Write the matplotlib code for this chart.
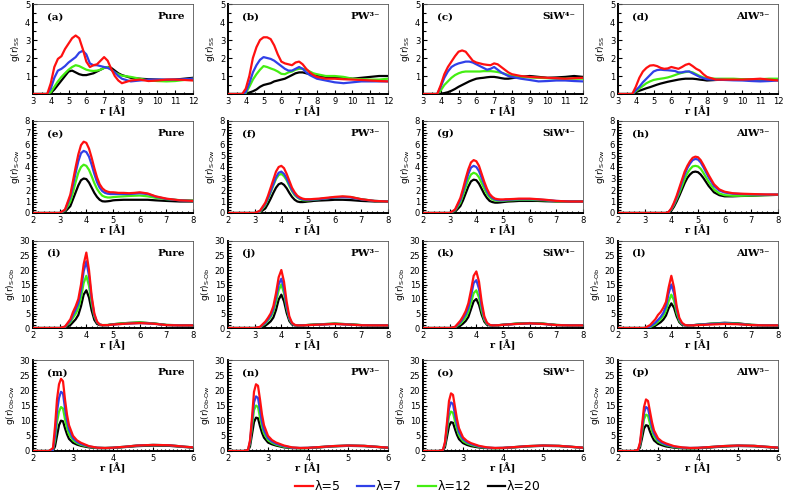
import matplotlib
matplotlib.use("Agg")
import matplotlib.pyplot as plt
from matplotlib.ticker import MultipleLocator, FuncFormatter
from matplotlib.lines import Line2D

# ---------------- data ----------------
LAMBDAS = ["λ=5", "λ=7", "λ=12", "λ=20"]
COLORS = ["#ff1010", "#3040e8", "#44ee11", "#000000"]
SYSTEMS = ["Pure", "PW³⁻", "SiW⁴⁻", "AlW⁵⁻"]

# Row 1: g(r)_SS
R1 = [3.0, 3.8, 4.0, 4.2, 4.4, 4.6, 4.8, 5.0, 5.2, 5.4, 5.6, 5.8, 6.0, 6.2, 6.4, 6.6,
      6.8, 7.0, 7.2, 7.4, 7.6, 7.8, 8.0, 8.5, 9.0, 9.5, 10.0, 10.5, 11.0, 11.5, 12.0]
ss_a = [
    [0, 0, 0.6, 1.5, 1.95, 2.1, 2.5, 2.8, 3.1, 3.25, 3.1, 2.5, 1.8, 1.5, 1.6, 1.65, 1.85, 2.05, 1.85, 1.4, 1.0, 0.75, 0.6, 0.75, 0.8, 0.72, 0.75, 0.8, 0.8, 0.78, 0.75],
    [0, 0, 0.3, 0.9, 1.3, 1.4, 1.55, 1.75, 1.9, 2.05, 2.3, 2.4, 2.2, 1.7, 1.6, 1.6, 1.55, 1.5, 1.45, 1.35, 1.2, 1.0, 0.85, 0.7, 0.75, 0.8, 0.8, 0.8, 0.8, 0.82, 0.85],
    [0, 0, 0.1, 0.4, 0.7, 0.95, 1.15, 1.35, 1.5, 1.6, 1.55, 1.45, 1.35, 1.3, 1.28, 1.3, 1.35, 1.45, 1.5, 1.35, 1.2, 1.1, 1.02, 0.95, 0.85, 0.75, 0.72, 0.7, 0.72, 0.78, 0.85],
    [0, 0, 0.05, 0.25, 0.5, 0.75, 1.0, 1.25, 1.3, 1.2, 1.1, 1.05, 1.05, 1.1, 1.15, 1.25, 1.35, 1.45, 1.5, 1.45, 1.3, 1.15, 1.05, 0.9, 0.85, 0.82, 0.8, 0.78, 0.8, 0.85, 0.9],
]
ss_b = [
    [0, 0, 0.3, 1.0, 2.0, 2.6, 3.0, 3.15, 3.15, 3.05, 2.7, 2.2, 1.8, 1.7, 1.65, 1.6, 1.75, 1.8, 1.65, 1.4, 1.2, 1.05, 0.95, 0.85, 0.85, 0.82, 0.8, 0.78, 0.75, 0.72, 0.7],
    [0, 0, 0.1, 0.6, 1.2, 1.6, 1.9, 2.05, 2.0, 1.95, 1.85, 1.7, 1.55, 1.4, 1.3, 1.3, 1.4, 1.5, 1.4, 1.2, 1.05, 0.95, 0.85, 0.75, 0.65, 0.6, 0.65, 0.7, 0.7, 0.7, 0.7],
    [0, 0, 0.05, 0.4, 0.8, 1.1, 1.35, 1.55, 1.5, 1.42, 1.35, 1.25, 1.12, 1.1, 1.2, 1.25, 1.35, 1.4, 1.4, 1.35, 1.25, 1.15, 1.1, 1.0, 1.0, 0.95, 0.85, 0.82, 0.8, 0.8, 0.85],
    [0, 0, 0.02, 0.08, 0.15, 0.25, 0.4, 0.5, 0.55, 0.6, 0.7, 0.75, 0.8, 0.85, 0.95, 1.05, 1.15, 1.2, 1.2, 1.15, 1.1, 1.05, 1.0, 0.95, 0.92, 0.9, 0.85, 0.9, 0.95, 1.0, 1.0],
]
ss_c = [
    [0, 0, 0.5, 1.1, 1.5, 1.8, 2.1, 2.35, 2.42, 2.35, 2.1, 1.85, 1.75, 1.7, 1.65, 1.62, 1.6, 1.7, 1.65, 1.5, 1.35, 1.2, 1.1, 1.0, 0.95, 0.92, 0.9, 0.88, 0.85, 0.88, 0.9],
    [0, 0, 0.4, 0.9, 1.25, 1.5, 1.62, 1.7, 1.75, 1.8, 1.8, 1.75, 1.65, 1.55, 1.45, 1.35, 1.4, 1.5, 1.35, 1.2, 1.1, 1.0, 0.95, 0.85, 0.78, 0.7, 0.72, 0.75, 0.75, 0.72, 0.7],
    [0, 0, 0.2, 0.5, 0.7, 0.9, 1.05, 1.15, 1.22, 1.25, 1.25, 1.25, 1.25, 1.25, 1.27, 1.27, 1.27, 1.25, 1.22, 1.18, 1.12, 1.05, 1.0, 0.95, 0.92, 0.9, 0.88, 0.85, 0.85, 0.85, 0.85],
    [0, 0, 0.02, 0.05, 0.1, 0.18, 0.28, 0.4, 0.5, 0.6, 0.7, 0.78, 0.85, 0.88, 0.9, 0.93, 0.95, 0.95, 0.92, 0.88, 0.85, 0.85, 0.88, 0.95, 1.0, 0.95, 0.9, 0.92, 0.95, 1.0, 0.95],
]
ss_d = [
    [0, 0, 0.4, 0.9, 1.25, 1.45, 1.58, 1.6, 1.55, 1.45, 1.4, 1.42, 1.5, 1.45, 1.4, 1.5, 1.62, 1.68, 1.55, 1.4, 1.3, 1.1, 0.95, 0.8, 0.8, 0.8, 0.8, 0.82, 0.85, 0.8, 0.75],
    [0, 0, 0.2, 0.4, 0.65, 0.85, 1.05, 1.25, 1.33, 1.35, 1.33, 1.32, 1.3, 1.28, 1.2, 1.2, 1.25, 1.25, 1.15, 1.05, 0.95, 0.88, 0.82, 0.8, 0.78, 0.76, 0.75, 0.72, 0.7, 0.72, 0.75],
    [0, 0, 0.15, 0.3, 0.45, 0.6, 0.7, 0.78, 0.82, 0.85, 0.88, 0.92, 0.98, 1.05, 1.12, 1.18, 1.22, 1.25, 1.2, 1.1, 1.0, 0.92, 0.88, 0.85, 0.85, 0.85, 0.82, 0.8, 0.82, 0.85, 0.85],
    [0, 0, 0.1, 0.18, 0.25, 0.32, 0.38, 0.45, 0.52, 0.58, 0.63, 0.68, 0.72, 0.76, 0.8, 0.83, 0.85, 0.85, 0.85, 0.83, 0.8, 0.78, 0.75, 0.78, 0.8, 0.8, 0.8, 0.8, 0.8, 0.8, 0.8],
]

# Row 2: g(r)_S-Ow
R2 = [2.0, 3.0, 3.2, 3.4, 3.5, 3.6, 3.7, 3.8, 3.9, 4.0, 4.1, 4.2, 4.3, 4.4, 4.5, 4.6,
      4.7, 4.8, 4.9, 5.0, 5.1, 5.2, 5.4, 5.6, 5.8, 6.0, 6.3, 6.6, 7.0, 7.5, 8.0]
sow_e = [
    [0, 0, 0.3, 1.6, 2.8, 4.0, 5.1, 5.9, 6.2, 6.1, 5.6, 4.8, 3.9, 3.1, 2.5, 2.15, 1.95, 1.85, 1.8, 1.8, 1.78, 1.75, 1.75, 1.72, 1.75, 1.8, 1.7, 1.45, 1.25, 1.1, 1.05],
    [0, 0, 0.25, 1.4, 2.4, 3.5, 4.5, 5.2, 5.4, 5.3, 4.9, 4.2, 3.4, 2.7, 2.2, 1.9, 1.75, 1.68, 1.65, 1.65, 1.65, 1.65, 1.65, 1.65, 1.68, 1.72, 1.65, 1.42, 1.22, 1.1, 1.05],
    [0, 0, 0.2, 1.0, 1.8, 2.7, 3.5, 4.0, 4.2, 4.1, 3.75, 3.2, 2.6, 2.1, 1.75, 1.5, 1.4, 1.35, 1.35, 1.38, 1.4, 1.42, 1.45, 1.48, 1.5, 1.52, 1.45, 1.32, 1.2, 1.12, 1.1],
    [0, 0, 0.1, 0.6, 1.2, 1.8, 2.4, 2.85, 3.0, 2.95, 2.65, 2.2, 1.75, 1.4, 1.15, 1.02, 1.0, 1.02, 1.05, 1.1, 1.12, 1.13, 1.15, 1.15, 1.15, 1.15, 1.15, 1.1, 1.05, 1.0, 1.0],
]
sow_f = [
    [0, 0, 0.2, 0.9, 1.5, 2.2, 2.9, 3.6, 4.0, 4.1, 3.9, 3.4, 2.8, 2.2, 1.8, 1.5, 1.35, 1.25, 1.2, 1.2, 1.2, 1.22, 1.25, 1.3, 1.35, 1.4, 1.45, 1.4, 1.2, 1.05, 1.0],
    [0, 0, 0.15, 0.8, 1.3, 1.9, 2.5, 3.1, 3.5, 3.6, 3.4, 3.0, 2.5, 2.0, 1.65, 1.4, 1.25, 1.18, 1.15, 1.15, 1.15, 1.18, 1.2, 1.25, 1.3, 1.35, 1.38, 1.35, 1.18, 1.05, 1.0],
    [0, 0, 0.1, 0.7, 1.2, 1.8, 2.4, 2.95, 3.3, 3.4, 3.2, 2.85, 2.35, 1.9, 1.55, 1.35, 1.2, 1.12, 1.1, 1.1, 1.12, 1.15, 1.2, 1.25, 1.3, 1.35, 1.4, 1.38, 1.2, 1.05, 1.0],
    [0, 0, 0.05, 0.4, 0.8, 1.25, 1.75, 2.2, 2.5, 2.6, 2.45, 2.15, 1.75, 1.4, 1.15, 1.0, 0.95, 0.95, 0.97, 1.0, 1.02, 1.05, 1.08, 1.1, 1.12, 1.15, 1.15, 1.12, 1.05, 1.0, 1.0],
]
sow_g = [
    [0, 0, 0.3, 1.3, 2.1, 3.0, 3.8, 4.4, 4.6, 4.5, 4.1, 3.4, 2.7, 2.1, 1.65, 1.4, 1.25, 1.2, 1.18, 1.18, 1.2, 1.2, 1.22, 1.25, 1.25, 1.25, 1.2, 1.15, 1.05, 1.0, 1.0],
    [0, 0, 0.25, 1.1, 1.85, 2.65, 3.4, 3.95, 4.1, 4.0, 3.65, 3.05, 2.45, 1.9, 1.5, 1.3, 1.18, 1.12, 1.1, 1.1, 1.12, 1.15, 1.18, 1.2, 1.2, 1.2, 1.18, 1.12, 1.05, 1.0, 1.0],
    [0, 0, 0.2, 0.9, 1.55, 2.25, 2.9, 3.35, 3.5, 3.4, 3.1, 2.6, 2.1, 1.65, 1.35, 1.18, 1.1, 1.05, 1.05, 1.05, 1.08, 1.1, 1.12, 1.15, 1.15, 1.15, 1.12, 1.1, 1.02, 1.0, 1.0],
    [0, 0, 0.1, 0.6, 1.1, 1.7, 2.3, 2.75, 2.9, 2.85, 2.55, 2.1, 1.65, 1.3, 1.05, 0.95, 0.9, 0.9, 0.92, 0.95, 0.98, 1.0, 1.02, 1.05, 1.05, 1.05, 1.05, 1.02, 1.0, 1.0, 1.0],
]
sow_h = [
    [0, 0, 0, 0, 0, 0, 0, 0, 0.1, 0.4, 0.9, 1.5, 2.2, 2.9, 3.6, 4.1, 4.5, 4.8, 4.9, 4.85, 4.6, 4.2, 3.3, 2.5, 2.05, 1.85, 1.72, 1.68, 1.65, 1.62, 1.6],
    [0, 0, 0, 0, 0, 0, 0, 0, 0.08, 0.35, 0.8, 1.35, 2.0, 2.7, 3.35, 3.9, 4.3, 4.6, 4.7, 4.65, 4.4, 4.0, 3.1, 2.35, 1.95, 1.78, 1.68, 1.65, 1.62, 1.6, 1.6],
    [0, 0, 0, 0, 0, 0, 0, 0, 0.05, 0.3, 0.7, 1.2, 1.75, 2.35, 2.95, 3.45, 3.8, 4.05, 4.1, 4.05, 3.85, 3.5, 2.7, 2.05, 1.7, 1.55, 1.5, 1.5, 1.52, 1.55, 1.58],
    [0, 0, 0, 0, 0, 0, 0, 0, 0.03, 0.2, 0.55, 1.0, 1.5, 2.05, 2.6, 3.05, 3.35, 3.55, 3.6, 3.55, 3.35, 3.05, 2.35, 1.8, 1.55, 1.45, 1.45, 1.48, 1.5, 1.55, 1.58],
]

# Row 3: g(r)_S-Ob
R3 = [2.0, 3.0, 3.2, 3.4, 3.5, 3.6, 3.7, 3.8, 3.9, 4.0, 4.1, 4.2, 4.3, 4.4, 4.5, 4.6,
      4.8, 5.0, 5.5, 6.0, 6.5, 7.0, 7.5, 8.0]
sob_i = [
    [0, 0, 0.5, 3.0, 5.5, 7.5, 10, 15, 22, 26, 20, 11, 5, 2.2, 1.2, 1.0, 1.0, 1.2, 1.5, 1.7, 1.5, 1.0, 0.9, 0.9],
    [0, 0, 0.4, 2.5, 4.5, 6.3, 8.5, 13, 19.5, 23, 18, 10, 4.5, 2.0, 1.2, 1.0, 1.0, 1.2, 1.5, 1.7, 1.5, 1.0, 0.9, 0.9],
    [0, 0, 0.3, 2.0, 3.5, 4.9, 6.8, 10.5, 15.5, 18, 14.5, 8.5, 4.0, 1.9, 1.2, 1.0, 1.05, 1.3, 1.7, 1.9, 1.6, 1.05, 0.95, 0.9],
    [0, 0, 0.1, 1.0, 2.0, 3.0, 4.5, 7.5, 11.5, 13, 10.5, 6.0, 2.8, 1.4, 1.0, 0.95, 1.0, 1.3, 1.7, 1.9, 1.6, 1.05, 0.95, 0.9],
]
sob_j = [
    [0, 0, 0.4, 2.2, 3.5, 5.0, 7.5, 12, 17.5, 20, 16, 9, 4, 1.8, 1.1, 0.9, 0.9, 1.0, 1.2, 1.4, 1.2, 0.95, 0.9, 0.9],
    [0, 0, 0.3, 1.8, 3.0, 4.3, 6.5, 10.5, 15, 17, 13.5, 7.5, 3.4, 1.6, 1.0, 0.9, 0.9, 1.0, 1.2, 1.4, 1.2, 0.95, 0.9, 0.9],
    [0, 0, 0.25, 1.5, 2.6, 3.8, 5.6, 9, 13, 15, 12, 6.8, 3.1, 1.5, 1.0, 0.9, 0.9, 1.05, 1.3, 1.5, 1.3, 1.0, 0.9, 0.9],
    [0, 0, 0.1, 0.8, 1.5, 2.3, 3.6, 6.2, 9.8, 11.5, 9.2, 5.2, 2.4, 1.2, 0.9, 0.85, 0.9, 1.05, 1.3, 1.5, 1.3, 1.0, 0.9, 0.9],
]
sob_k = [
    [0, 0, 0.4, 2.5, 4.0, 5.8, 8.5, 13, 18, 19.5, 16, 9, 4, 1.8, 1.1, 0.9, 0.95, 1.1, 1.4, 1.6, 1.4, 1.0, 0.9, 0.9],
    [0, 0, 0.3, 2.0, 3.3, 4.8, 7.0, 11, 15.5, 16.5, 13.5, 7.5, 3.4, 1.6, 1.0, 0.9, 0.95, 1.1, 1.4, 1.6, 1.4, 1.0, 0.9, 0.9],
    [0, 0, 0.25, 1.5, 2.5, 3.7, 5.5, 8.8, 12, 13, 10.5, 6, 2.8, 1.4, 1.0, 0.9, 0.95, 1.1, 1.5, 1.7, 1.5, 1.05, 0.9, 0.9],
    [0, 0, 0.1, 0.8, 1.5, 2.4, 3.8, 6.5, 9.2, 10, 8, 4.6, 2.2, 1.1, 0.9, 0.85, 0.95, 1.1, 1.5, 1.7, 1.5, 1.05, 0.9, 0.9],
]
sob_l = [
    [0, 0, 1.0, 3.0, 4.5, 5.5, 7.0, 9.0, 14, 18, 14, 7.5, 3.5, 1.8, 1.1, 0.9, 0.9, 1.0, 1.2, 1.4, 1.3, 1.0, 0.9, 0.9],
    [0, 0, 0.5, 1.8, 2.8, 3.8, 5.2, 7.5, 12, 15, 12, 6.5, 3.0, 1.5, 1.0, 0.9, 0.95, 1.1, 1.4, 1.6, 1.4, 1.0, 0.9, 0.9],
    [0, 0, 0.3, 1.3, 2.2, 3.0, 4.2, 6.0, 9.2, 11.5, 9.5, 5.2, 2.5, 1.3, 1.0, 0.9, 0.95, 1.1, 1.5, 1.7, 1.5, 1.05, 0.9, 0.9],
    [0, 0, 0.15, 0.8, 1.4, 2.0, 2.9, 4.3, 6.8, 8.5, 7.0, 4.0, 2.0, 1.1, 0.9, 0.9, 0.95, 1.15, 1.5, 1.8, 1.6, 1.1, 0.9, 0.9],
]

# Row 4: g(r)_Ob-Ow
R4 = [2.0, 2.4, 2.5, 2.55, 2.6, 2.65, 2.7, 2.75, 2.8, 2.85, 2.9, 3.0, 3.1, 3.2, 3.4, 3.6,
      3.8, 4.0, 4.3, 4.6, 5.0, 5.4, 5.8, 6.0]
obow_m = [
    [0, 0, 1.0, 8, 17, 22, 23.8, 23, 17, 12, 8.5, 5, 3.5, 2.7, 1.6, 1.1, 1.0, 1.1, 1.4, 1.8, 2.0, 1.9, 1.4, 1.2],
    [0, 0, 0.4, 5, 13, 17.5, 19.5, 19, 14, 10, 7, 4.2, 3.0, 2.3, 1.5, 1.1, 1.0, 1.1, 1.4, 1.8, 2.0, 1.9, 1.4, 1.2],
    [0, 0, 0.3, 3.5, 9.5, 13, 14.5, 14, 10.5, 7.5, 5.5, 3.5, 2.6, 2.0, 1.4, 1.05, 1.0, 1.1, 1.4, 1.8, 2.0, 1.9, 1.4, 1.2],
    [0, 0, 0.1, 1.5, 5, 8.5, 10, 9.8, 7.5, 5.5, 4, 2.7, 2.1, 1.7, 1.2, 0.95, 0.9, 1.0, 1.3, 1.6, 1.8, 1.7, 1.3, 1.1],
]
obow_n = [
    [0, 0, 0.4, 3.5, 11, 19.5, 22, 21.5, 17, 12, 8.5, 5, 3.6, 2.8, 1.8, 1.2, 1.0, 1.05, 1.3, 1.6, 1.8, 1.7, 1.3, 1.1],
    [0, 0, 0.3, 3.0, 9.5, 16, 18, 17.5, 13.5, 9.5, 6.8, 4.2, 3.1, 2.4, 1.6, 1.1, 1.0, 1.05, 1.3, 1.6, 1.8, 1.7, 1.3, 1.1],
    [0, 0, 0.25, 2.5, 8, 13.5, 15, 14.5, 11, 8, 5.8, 3.6, 2.7, 2.1, 1.4, 1.05, 0.95, 1.0, 1.3, 1.6, 1.8, 1.7, 1.3, 1.1],
    [0, 0, 0.1, 1.5, 5.5, 9.5, 11, 10.8, 8.2, 6, 4.4, 2.8, 2.2, 1.8, 1.2, 0.95, 0.9, 0.95, 1.2, 1.5, 1.7, 1.6, 1.25, 1.05],
]
obow_o = [
    [0, 0, 0.4, 3.0, 9.5, 16.5, 19, 18.5, 14.5, 10.5, 7.5, 4.5, 3.3, 2.6, 1.7, 1.2, 1.0, 1.05, 1.3, 1.6, 1.8, 1.7, 1.3, 1.1],
    [0, 0, 0.3, 2.6, 8.2, 14, 16, 15.5, 12, 8.7, 6.2, 3.9, 2.9, 2.3, 1.5, 1.1, 1.0, 1.05, 1.3, 1.6, 1.8, 1.7, 1.3, 1.1],
    [0, 0, 0.25, 2.1, 6.8, 11.5, 13, 12.6, 9.8, 7.2, 5.2, 3.3, 2.5, 2.0, 1.35, 1.05, 0.95, 1.0, 1.3, 1.6, 1.8, 1.7, 1.3, 1.1],
    [0, 0, 0.1, 1.3, 4.7, 8.2, 9.5, 9.3, 7.2, 5.3, 3.9, 2.6, 2.0, 1.6, 1.15, 0.95, 0.9, 0.95, 1.2, 1.5, 1.7, 1.6, 1.25, 1.05],
]
obow_p = [
    [0, 0, 0.4, 2.8, 8.5, 14.5, 17, 16.5, 13, 9.5, 6.8, 4.2, 3.1, 2.5, 1.6, 1.2, 1.0, 1.05, 1.3, 1.6, 1.8, 1.7, 1.3, 1.1],
    [0, 0, 0.3, 2.3, 7.2, 12.5, 14.5, 14, 11, 8, 5.8, 3.6, 2.7, 2.1, 1.45, 1.1, 1.0, 1.05, 1.3, 1.6, 1.8, 1.7, 1.3, 1.1],
    [0, 0, 0.25, 1.9, 6.0, 10.5, 12, 11.6, 9, 6.6, 4.8, 3.1, 2.4, 1.9, 1.3, 1.0, 0.95, 1.0, 1.3, 1.6, 1.8, 1.7, 1.3, 1.1],
    [0, 0, 0.1, 1.2, 4.2, 7.4, 8.5, 8.3, 6.4, 4.8, 3.5, 2.4, 1.9, 1.5, 1.1, 0.9, 0.85, 0.9, 1.15, 1.45, 1.65, 1.55, 1.2, 1.05],
]

PANEL_LETTERS = "abcdefghijklmnop"
ROWS = [
    dict(r=R1, data=[ss_a, ss_b, ss_c, ss_d], ylabel=r"g(r)$_{\rm SS}$",
         xlim=(3, 12), ylim=(0, 5), xmaj=1, xmin=0.5, ymaj=1, ymin=0.5),
    dict(r=R2, data=[sow_e, sow_f, sow_g, sow_h], ylabel=r"g(r)$_{\rm S\text{-}Ow}$",
         xlim=(2, 8), ylim=(0, 8), xmaj=1, xmin=0.2, ymaj=1, ymin=0.25),
    dict(r=R3, data=[sob_i, sob_j, sob_k, sob_l], ylabel=r"g(r)$_{\rm S\text{-}Ob}$",
         xlim=(2, 8), ylim=(0, 30), xmaj=1, xmin=0.2, ymaj=5, ymin=1),
    dict(r=R4, data=[obow_m, obow_n, obow_o, obow_p], ylabel=r"g(r)$_{\rm Ob\text{-}Ow}$",
         xlim=(2, 6), ylim=(0, 30), xmaj=1, xmin=0.1, ymaj=5, ymin=1),
]

# ---------------- layout ----------------
W, H = 787, 495
fig = plt.figure(figsize=(W / 100, H / 100), dpi=100)
col_left = [33, 228, 423, 618]
col_w = 160
row_tb = [(4, 94), (121, 213), (241, 328), (360, 451)]
serif = ["DejaVu Serif"]

no_zero = FuncFormatter(lambda v, p: "" if abs(v) < 1e-9 else f"{v:g}")

for ri, row in enumerate(ROWS):
    top, bot = row_tb[ri]
    for ci in range(4):
        ax = fig.add_axes([col_left[ci] / W, 1 - bot / H, col_w / W, (bot - top) / H])
        for k, ys in enumerate(row["data"][ci]):
            ax.plot(row["r"], ys, color=COLORS[k], lw=1.6, zorder=5 - k * 0.1)
        ax.set_xlim(*row["xlim"])
        ax.set_ylim(*row["ylim"])
        ax.xaxis.set_major_locator(MultipleLocator(row["xmaj"]))
        ax.xaxis.set_minor_locator(MultipleLocator(row["xmin"]))
        ax.yaxis.set_major_locator(MultipleLocator(row["ymaj"]))
        ax.yaxis.set_minor_locator(MultipleLocator(row["ymin"]))
        if ri == 0 and ci < 3:
            ax.yaxis.set_major_formatter(no_zero)
        ax.tick_params(which="both", direction="in", top=False, right=False,
                       labelsize=6, pad=2, width=0.8)
        ax.tick_params(which="major", length=3)
        ax.tick_params(which="minor", length=1.8)
        for s in ["left", "bottom"]:
            ax.spines[s].set_linewidth(1.4)
        for s in ["top", "right"]:
            ax.spines[s].set_linewidth(0.6)
            ax.spines[s].set_color("#555555")
        ax.set_xlabel("r [Å]", family=serif, fontweight="bold", fontsize=7, labelpad=0)
        ax.set_ylabel(row["ylabel"], fontsize=6.5, labelpad=2)
        letter = PANEL_LETTERS[ri * 4 + ci]
        ax.text(0.09, 0.86, f"({letter})", transform=ax.transAxes, family=serif,
                fontweight="bold", fontsize=7.5, va="center", ha="left")
        ax.text(0.95, 0.86, SYSTEMS[ci], transform=ax.transAxes, family=serif,
                fontweight="bold", fontsize=7.5, va="center", ha="right")

handles = [Line2D([0], [0], color=c, lw=1.6) for c in COLORS]
fig.legend(handles, LAMBDAS, loc="center", bbox_to_anchor=(418 / W, 1 - 487 / H),
           ncol=4, frameon=False, fontsize=9, handlelength=1.4, handletextpad=0.15,
           columnspacing=1.3)

fig.savefig("out.png", dpi=100)
